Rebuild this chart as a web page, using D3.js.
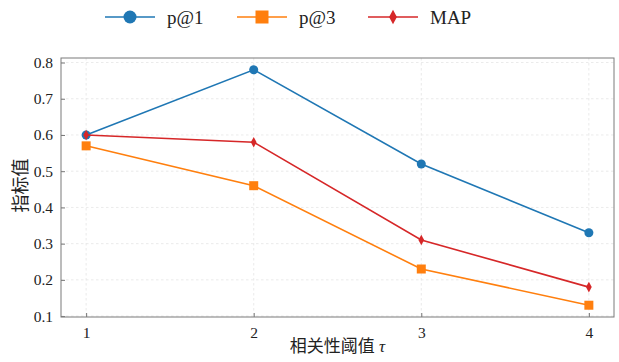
<!DOCTYPE html>
<html>
<head>
<meta charset="utf-8">
<script src="https://cdn.jsdelivr.net/npm/d3@7"></script>
<style>
  html, body { margin: 0; padding: 0; background: #fff; }
  svg { display: block; }
</style>
</head>
<body>
<svg id="chart" width="619" height="362"></svg>
<script>
// Retrieval metrics at each relevance threshold τ
const thresholds = [1, 2, 3, 4];
const p1Values = [0.60, 0.78, 0.52, 0.33];
const p3Values = [0.57, 0.46, 0.23, 0.13];
const mapValues = [0.60, 0.58, 0.31, 0.18];
const yTicks = [0.1, 0.2, 0.3, 0.4, 0.5, 0.6, 0.7, 0.8];
const seriesNames = ["p@1", "p@3", "MAP"];

const serif = "'Liberation Serif', 'DejaVu Serif', serif";
const cjk = "'Liberation Serif', 'Noto Sans CJK SC', serif";

const series = [
  { name: seriesNames[0], values: p1Values, color: "#1f77b4", marker: "circle" },
  { name: seriesNames[1], values: p3Values, color: "#ff7f0e", marker: "square" },
  { name: seriesNames[2], values: mapValues, color: "#d62728", marker: "diamond" }
];

const svg = d3.select("#chart");
const plot = { left: 61, right: 614, top: 58, bottom: 317 };

const x = d3.scaleLinear().domain([0.85, 4.15]).range([plot.left, plot.right]);
const y = d3.scaleLinear().domain([0.0975, 0.8125]).range([plot.bottom, plot.top]);

// grid
const grid = svg.append("g");
grid.selectAll("line.gx").data(thresholds).join("line")
  .attr("x1", d => x(d)).attr("x2", d => x(d))
  .attr("y1", plot.top).attr("y2", plot.bottom)
  .attr("stroke", "#e4e4e4").attr("stroke-width", 0.8).attr("stroke-dasharray", "2.5,2.5");
grid.selectAll("line.gy").data(yTicks).join("line")
  .attr("x1", plot.left).attr("x2", plot.right)
  .attr("y1", d => y(d)).attr("y2", d => y(d))
  .attr("stroke", "#e4e4e4").attr("stroke-width", 0.8).attr("stroke-dasharray", "2.5,2.5");

// axes with inward ticks
const xAxis = d3.axisBottom(x).tickValues(thresholds).tickFormat(d3.format("d"))
  .tickSizeInner(-4).tickSizeOuter(0).tickPadding(10);
const yAxis = d3.axisLeft(y).tickValues(yTicks).tickFormat(d3.format(".1f"))
  .tickSizeInner(-4).tickSizeOuter(0).tickPadding(8);

const gx = svg.append("g").attr("transform", `translate(0,${plot.bottom})`).call(xAxis);
const gy = svg.append("g").attr("transform", `translate(${plot.left},0)`).call(yAxis);
[gx, gy].forEach(g => {
  g.attr("font-family", serif).attr("font-size", 15.5);
  g.select(".domain").remove();
  g.selectAll(".tick line").attr("stroke", "#555").attr("stroke-width", 0.8);
  g.selectAll(".tick text").attr("fill", "#222");
});

// frame
svg.append("rect")
  .attr("x", plot.left).attr("y", plot.top)
  .attr("width", plot.right - plot.left).attr("height", plot.bottom - plot.top)
  .attr("fill", "none").attr("stroke", "#7a7a7a").attr("stroke-width", 1);

// marker paths
function markerPath(type, s) {
  if (type === "circle") return d3.symbol(d3.symbolCircle, Math.PI * s * s)();
  if (type === "square") return `M${-s},${-s}H${s}V${s}H${-s}Z`;
  return `M0,${-s * 1.1}L${s * 0.6},0L0,${s * 1.1}L${-s * 0.6},0Z`;
}
const markerSize = { circle: 4.5, square: 4.5, diamond: 4.8 };

const line = d3.line().x((d, i) => x(thresholds[i])).y(d => y(d));

series.forEach(s => {
  svg.append("path").datum(s.values)
    .attr("d", line).attr("fill", "none")
    .attr("stroke", s.color).attr("stroke-width", 1.6);
  svg.append("g").selectAll("path").data(s.values).join("path")
    .attr("transform", (d, i) => `translate(${x(thresholds[i])},${y(d)})`)
    .attr("d", markerPath(s.marker, markerSize[s.marker]))
    .attr("fill", s.color);
});

// axis titles
const xTitle = svg.append("text")
  .attr("x", (plot.left + plot.right) / 2).attr("y", 352)
  .attr("text-anchor", "middle").attr("fill", "#222")
  .style("font-family", cjk).style("font-size", "17px");
xTitle.append("tspan").text("相关性阈值 ");
xTitle.append("tspan").style("font-style", "italic").style("font-family", serif).text("τ");

svg.append("text")
  .attr("transform", `translate(27,${(plot.top + plot.bottom) / 2 - 2}) rotate(-90)`)
  .attr("text-anchor", "middle").attr("fill", "#222")
  .style("font-family", cjk).style("font-size", "18px")
  .text("指标值");

// legend
const legendX = [105, 237, 368];
const legend = svg.append("g");
series.forEach((s, i) => {
  const g = legend.append("g").attr("transform", `translate(${legendX[i]},17)`);
  g.append("line").attr("x1", 0).attr("x2", 50).attr("y1", 0).attr("y2", 0)
    .attr("stroke", s.color).attr("stroke-width", 1.6);
  g.append("path").attr("transform", "translate(25,0)")
    .attr("d", markerPath(s.marker, 6.5))
    .attr("fill", s.color);
  g.append("text").attr("x", 62).attr("y", 6.5)
    .attr("fill", "#222")
    .style("font-family", serif).style("font-size", "19px")
    .text(s.name);
});
</script>
</body>
</html>
